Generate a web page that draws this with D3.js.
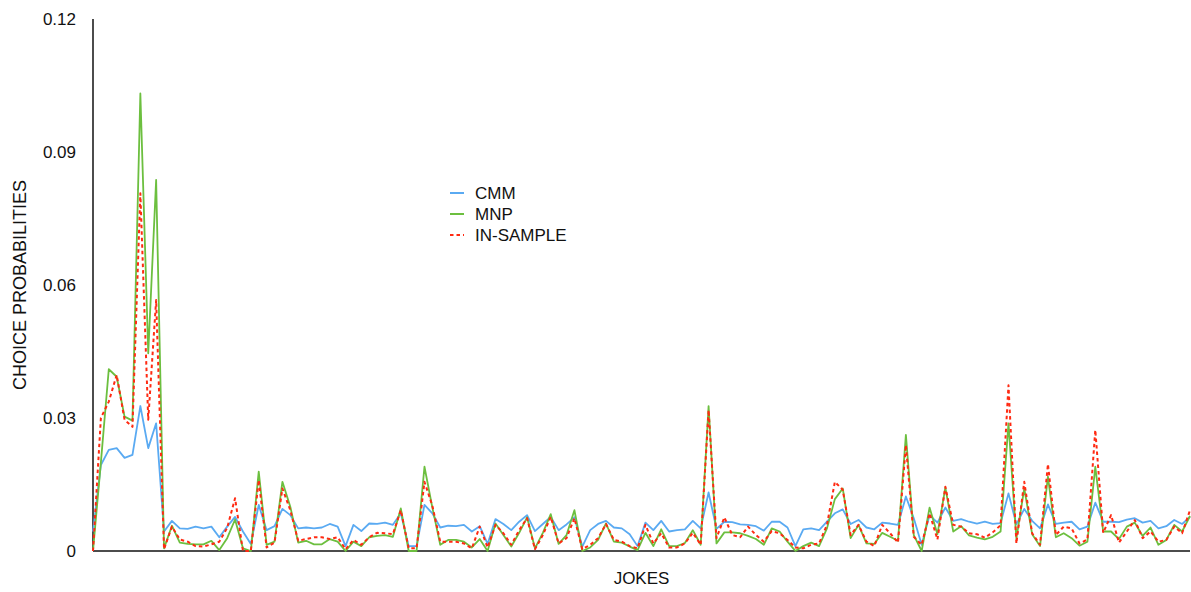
<!DOCTYPE html>
<html>
<head>
<meta charset="utf-8">
<script src="https://cdn.jsdelivr.net/npm/d3@7"></script>
<style>
  body { margin: 0; background: #fff; }
  svg { display: block; font-family: "Liberation Sans", Arial, Helvetica, sans-serif; }
</style>
</head>
<body>
<svg id="chart" width="1191" height="592"></svg>
<script>
const jokes = d3.range(1, 141);
const yTicks = [0, 0.03, 0.06, 0.09, 0.12];
const yTickLabels = ["0", "0.03", "0.06", "0.09", "0.12"];
const seriesNames = ["CMM", "MNP", "IN-SAMPLE"];

const cmm = [
0.0044,0.0194,0.0228,0.0232,0.021,0.0217,0.0327,0.0232,0.0288,0.0044,
0.0068,0.0051,0.005,0.0055,0.0051,0.0055,0.0031,0.0055,0.0077,0.0044,
0.0016,0.0104,0.0047,0.0056,0.0095,0.0081,0.0051,0.0053,0.0051,0.0053,
0.0061,0.0055,0.0011,0.0059,0.0045,0.0062,0.0061,0.0064,0.0059,0.0085,
0.0011,0.0011,0.0104,0.0085,0.0053,0.0057,0.0056,0.0059,0.0044,0.0056,
0.0016,0.0072,0.0061,0.0047,0.0066,0.0081,0.0045,0.0061,0.0077,0.0047,
0.006,0.0076,0.001,0.0047,0.0061,0.0068,0.0053,0.0051,0.0038,0.0011,
0.0064,0.0047,0.0068,0.0044,0.0047,0.0049,0.0068,0.0051,0.0132,0.005,
0.0066,0.0065,0.006,0.0059,0.0056,0.0046,0.0066,0.0066,0.0053,0.0011,
0.0049,0.0051,0.0047,0.0066,0.0085,0.0094,0.0061,0.007,0.0053,0.0049,
0.0064,0.0062,0.0059,0.0123,0.0074,0.0014,0.0081,0.0064,0.0098,0.0068,
0.0072,0.0066,0.0062,0.0066,0.0061,0.0063,0.013,0.006,0.0095,0.0068,
0.0051,0.0105,0.0061,0.0064,0.0066,0.0049,0.0055,0.0109,0.0066,0.0066,
0.0065,0.0071,0.0074,0.0064,0.0068,0.0051,0.0056,0.007,0.0061,0.0077];

const mnp = [
0,0.02,0.041,0.0393,0.0303,0.0294,0.1032,0.0446,0.0837,0.0006,
0.0057,0.0019,0.0016,0.0015,0.0015,0.0023,0.0002,0.0029,0.0071,0.0006,
0,0.0179,0.0014,0.0021,0.0156,0.01,0.0019,0.0023,0.0015,0.0015,
0.0027,0.0021,0,0.0021,0.0011,0.0031,0.0034,0.0036,0.0032,0.0096,
0,0,0.019,0.0098,0.0014,0.0025,0.0025,0.0021,0.0008,0.0027,
0,0.0062,0.0036,0.001,0.0041,0.0076,0.0006,0.0041,0.0083,0.0016,
0.0036,0.0092,0,0.0008,0.0025,0.0062,0.0021,0.0019,0.001,0.0002,
0.0041,0.0011,0.0049,0.0011,0.0011,0.0018,0.0047,0.0014,0.0327,0.0017,
0.0042,0.0042,0.004,0.0034,0.0027,0.0014,0.0051,0.0044,0.0021,0,
0.0011,0.0019,0.0011,0.0051,0.0117,0.0141,0.0029,0.0059,0.0017,0.0016,
0.0041,0.0032,0.0023,0.0262,0.0036,0,0.0098,0.0038,0.0143,0.0044,
0.0056,0.0035,0.003,0.0026,0.0032,0.0044,0.0288,0.0028,0.0141,0.0038,
0.0011,0.0168,0.0031,0.004,0.0029,0.0012,0.0021,0.019,0.0044,0.0044,
0.0027,0.0055,0.0064,0.0034,0.0053,0.0014,0.0025,0.0059,0.0044,0.0079];

const inSample = [
0,0.03,0.0337,0.0397,0.0296,0.028,0.0807,0.0296,0.0566,0.0004,
0.0055,0.0026,0.0021,0.0011,0.001,0.0015,0.0021,0.0052,0.0119,0,
0,0.016,0.0008,0.0019,0.0141,0.0092,0.0023,0.0027,0.0031,0.0031,
0.0027,0.0031,0.0004,0.0025,0.0014,0.0031,0.0041,0.004,0.0038,0.0092,
0.0006,0.0006,0.0156,0.0102,0.0021,0.0021,0.0021,0.0017,0.0006,0.0055,
0.0008,0.0059,0.004,0.0014,0.0047,0.0074,0.0004,0.0036,0.0077,0.0017,
0.0029,0.0074,0.0004,0.0014,0.0029,0.0061,0.0025,0.0021,0.0011,0.0006,
0.0059,0.0017,0.004,0.0008,0.0008,0.0017,0.0041,0.0014,0.0318,0.0029,
0.0076,0.0036,0.0031,0.0055,0.0036,0.0021,0.0045,0.004,0.0025,0.0008,
0.0006,0.0014,0.0017,0.0059,0.0156,0.0138,0.0036,0.0059,0.0021,0.0011,
0.0059,0.004,0.0019,0.0239,0.0032,0.0014,0.0085,0.0026,0.0145,0.0059,
0.0055,0.004,0.0038,0.003,0.0042,0.0058,0.0374,0.0017,0.0156,0.004,
0.0014,0.0196,0.0036,0.0055,0.0051,0.0017,0.0026,0.0273,0.0041,0.0081,
0.0019,0.0044,0.007,0.0029,0.0044,0.0021,0.0025,0.0055,0.004,0.0092];

const colors = { "CMM": "#5aaaf2", "MNP": "#6cbf3f", "IN-SAMPLE": "#ff2a12" };

const svg = d3.select("#chart");
const plotL = 93, plotR = 1190, plotT = 19, plotB = 551;
const fs = 17;

const x = d3.scalePoint().domain(jokes).range([plotL, plotR]);
const y = d3.scaleLinear().domain([0, 0.12]).range([plotB, plotT]);

// axes
svg.append("line").attr("x1", plotL).attr("x2", plotL).attr("y1", plotT).attr("y2", plotB)
  .attr("stroke", "#111").attr("stroke-width", 1.5);
svg.append("line").attr("x1", plotL).attr("x2", plotR).attr("y1", plotB).attr("y2", plotB)
  .attr("stroke", "#111").attr("stroke-width", 1.5);

const yAxis = d3.axisLeft(y).tickValues(yTicks).tickSize(0).tickPadding(17)
  .tickFormat((d, i) => yTickLabels[i]);
const gy = svg.append("g").attr("transform", `translate(${plotL},0)`).call(yAxis);
gy.select(".domain").remove();
gy.selectAll("text").attr("font-size", fs).attr("fill", "#111")
  .attr("font-family", "'Liberation Sans', Arial, sans-serif");

// titles
svg.append("text").attr("x", (plotL + plotR) / 2).attr("y", 584)
  .attr("text-anchor", "middle").attr("font-size", fs).attr("fill", "#111").text("JOKES");
svg.append("text").attr("transform", "translate(26,285) rotate(-90)")
  .attr("text-anchor", "middle").attr("font-size", 18).attr("fill", "#111").text("CHOICE PROBABILITIES");

// lines
const line = d3.line().x((d, i) => x(jokes[i])).y(d => y(d));
const data = { "CMM": cmm, "MNP": mnp, "IN-SAMPLE": inSample };
seriesNames.forEach(name => {
  const p = svg.append("path").datum(data[name]).attr("d", line)
    .attr("fill", "none").attr("stroke", colors[name])
    .attr("stroke-width", name === "IN-SAMPLE" ? 2 : 1.8)
    .attr("stroke-linejoin", "round");
  if (name === "IN-SAMPLE") p.attr("stroke-dasharray", "3.5,3");
});

// legend
const lg = svg.append("g").attr("transform", "translate(450,193)");
seriesNames.forEach((name, i) => {
  const g = lg.append("g").attr("transform", `translate(0,${i * 21})`);
  g.append("line").attr("x1", 0).attr("x2", 14).attr("y1", 0).attr("y2", 0)
    .attr("stroke", colors[name]).attr("stroke-width", 2)
    .attr("stroke-dasharray", name === "IN-SAMPLE" ? "3.5,3" : null);
  g.append("text").attr("x", 25).attr("y", 6).attr("font-size", fs).attr("fill", "#111").text(name);
});
</script>
</body>
</html>
